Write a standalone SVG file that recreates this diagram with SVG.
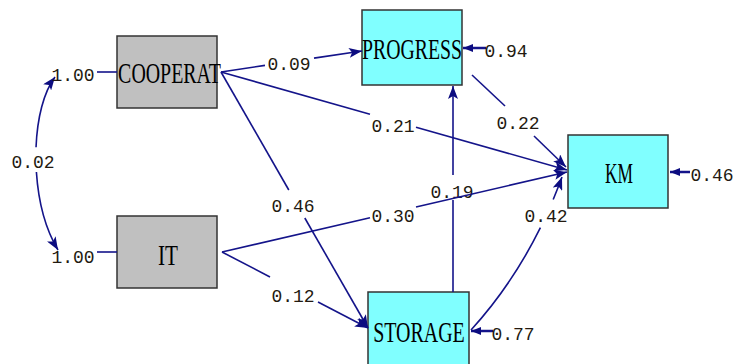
<svg xmlns="http://www.w3.org/2000/svg" width="735" height="364" viewBox="0 0 735 364">
<defs>
<marker id="ah" markerUnits="userSpaceOnUse" markerWidth="14" markerHeight="10" refX="13" refY="5" orient="auto">
<path d="M0,0 L13,5 L0,10 L3,5 z" fill="#0c0c80"/>
</marker>
<marker id="ahs" markerUnits="userSpaceOnUse" markerWidth="14" markerHeight="10" refX="13" refY="5" orient="auto-start-reverse">
<path d="M0,0 L13,5 L0,10 L3,5 z" fill="#0c0c80"/>
</marker>
<marker id="rh" markerUnits="userSpaceOnUse" markerWidth="11" markerHeight="8" refX="10" refY="4" orient="auto">
<path d="M0,0 L10,4 L0,8 z" fill="#0c0c80"/>
</marker>
</defs>
<style>
.obs{fill:#C0C0C0;stroke:#333;stroke-width:1.5}
.lat{fill:#80FFFF;stroke:#333;stroke-width:1.5}
.nt{font-family:"Liberation Serif","Times New Roman",serif;font-size:29px;fill:#000;text-anchor:middle}
.ln{fill:none;stroke:#14148a;stroke-width:1.6}
.rs{fill:none;stroke:#14148a;stroke-width:2.5}
.lb{font-family:"Liberation Mono","Courier New",monospace;font-size:18px;fill:#231a10;text-anchor:middle}
</style>
<rect width="735" height="364" fill="#fff"/>

<g id="COOPERAT">
<rect class="obs" x="117" y="36" width="100" height="72"/>
<text class="nt" transform="translate(169.5,83) scale(0.686,1)">COOPERAT</text>
</g>
<g id="IT">
<rect class="obs" x="117" y="216" width="100" height="72"/>
<text class="nt" transform="translate(168,265) scale(0.73,1)">IT</text>
</g>
<g id="PROGRESS">
<rect class="lat" x="362" y="10" width="100" height="75"/>
<text class="nt" transform="translate(412,59) scale(0.682,1)">PROGRESS</text>
</g>
<g id="KM">
<rect class="lat" x="568" y="135" width="100" height="73"/>
<text class="nt" transform="translate(619,183) scale(0.6,1)">KM</text>
</g>
<g id="STORAGE">
<rect class="lat" x="368" y="292" width="101" height="80"/>
<text class="nt" transform="translate(419,342) scale(0.688,1)">STORAGE</text>
</g>

<g id="connectors">
<!-- covariance -->
<path class="ln" d="M55,77 C43.75,91.85 37.16,118.24 36.04,147.34" marker-start="url(#ahs)"/>
<path class="ln" d="M36.39,171.99 C38.27,200.25 45.25,228.74 58,250" marker-end="url(#ah)"/>
<text class="lb" x="33" y="168">0.02</text>
<line class="ln" x1="97" y1="72" x2="117" y2="72"/>
<text class="lb" x="73" y="81">1.00</text>
<line class="ln" x1="97" y1="252" x2="117" y2="252"/>
<text class="lb" x="73" y="263">1.00</text>

<!-- COOPERAT -> PROGRESS -->
<path class="ln" d="M221,72 L265,65.4"/>
<path class="ln" d="M314,58.1 L362,51" marker-end="url(#ah)"/>
<text class="lb" x="289" y="70">0.09</text>

<!-- STORAGE -> PROGRESS -->
<path class="ln" d="M453,292 L453,200"/>
<path class="ln" d="M453,175 L453,86" marker-end="url(#ah)"/>
<text class="lb" x="452" y="198">0.19</text>

<!-- COOPERAT -> KM -->
<path class="ln" d="M221,72 L370,114.2"/>
<path class="ln" d="M416,127.2 L567,170" marker-end="url(#ah)"/>
<text class="lb" x="393" y="132">0.21</text>

<!-- COOPERAT -> STORAGE -->
<path class="ln" d="M221,72 L288.8,190"/>
<path class="ln" d="M304.8,218 L368,328" marker-end="url(#ah)"/>
<text class="lb" x="293" y="212">0.46</text>

<!-- IT -> KM -->
<path class="ln" d="M222,252 L370,217.7"/>
<path class="ln" d="M416,207 L567,172" marker-end="url(#ah)"/>
<text class="lb" x="393" y="222">0.30</text>

<!-- IT -> STORAGE -->
<path class="ln" d="M222,252 L270,277"/>
<path class="ln" d="M318,302 L368,328" marker-end="url(#ah)"/>
<text class="lb" x="293" y="302">0.12</text>

<!-- PROGRESS -> KM -->
<path class="ln" d="M472,75 L505,106"/>
<path class="ln" d="M534,136 L566,167" marker-end="url(#ah)"/>
<text class="lb" x="518" y="129">0.22</text>

<!-- STORAGE -> KM -->
<path class="ln" d="M471,330 Q512.3,284.5 540.4,227.7"/>
<path class="ln" d="M553.2,199.5 Q557.8,188.4 562,177" marker-end="url(#ah)"/>
<text class="lb" x="546" y="222">0.42</text>

<!-- residuals -->
<path class="rs" d="M486,48 L463,48" marker-end="url(#rh)"/>
<text class="lb" x="506" y="57">0.94</text>
<path class="rs" d="M690,172 L670,172" marker-end="url(#rh)"/>
<text class="lb" x="712" y="181">0.46</text>
<path class="rs" d="M493,331 L471,331" marker-end="url(#rh)"/>
<text class="lb" x="513" y="340">0.77</text>
</g>
</svg>
